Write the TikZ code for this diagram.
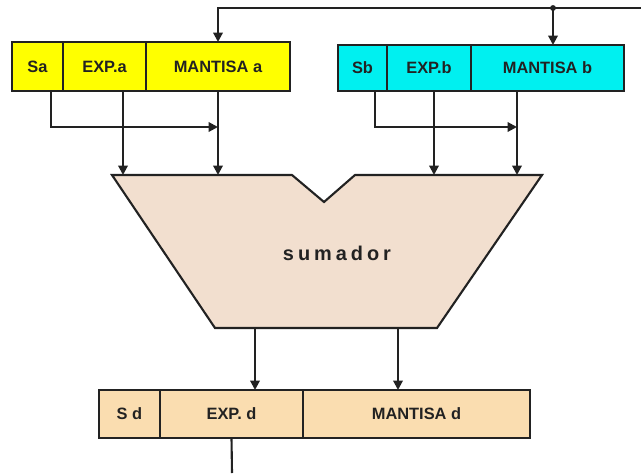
\documentclass[tikz,border=0pt]{standalone}
\usepackage{fontspec}
\setmainfont{Liberation Sans}
\usetikzlibrary{positioning,calc,arrows.meta}

\definecolor{regA}{HTML}{FFFF00}
\definecolor{regB}{HTML}{00F0F0}
\definecolor{aluFill}{HTML}{F2DFCF}
\definecolor{regD}{HTML}{FADDB0}
\definecolor{ink}{HTML}{222222}

\tikzset{
	field/.style={draw=ink, line width=2pt, rectangle, inner sep=0pt, outer sep=0pt,
		font=\fontsize{14}{16}\selectfont\bfseries, text=ink},
	wire/.style={draw=ink, line width=1.8pt},
	tip/.style={-{Triangle[length=8pt,width=8pt]}},
	alu/.style={draw=ink, line width=1.8pt, fill=aluFill, line join=miter}
}

\begin{document}
\begin{tikzpicture}[x=0.03cm, y=-0.03cm]
	\useasboundingbox (0,0) rectangle (641,473);

	% registro A
	\node[field, fill=regA, anchor=north west, minimum width=1.53cm, minimum height=1.47cm] (sa) at (12,42) {Sa};
	\node[field, fill=regA, right=0pt of sa, minimum width=2.49cm, minimum height=1.47cm] (expa) {EXP.a};
	\node[field, fill=regA, right=0pt of expa, minimum width=4.32cm, minimum height=1.47cm] (mana) {MANTISA a};

	% registro B
	\node[field, fill=regB, anchor=north west, minimum width=1.47cm, minimum height=1.38cm] (sb) at (338,45) {Sb};
	\node[field, fill=regB, right=0pt of sb, minimum width=2.52cm, minimum height=1.38cm] (expb) {EXP.b};
	\node[field, fill=regB, right=0pt of expb, minimum width=4.59cm, minimum height=1.38cm] (manb) {MANTISA b};

	% sumador
	\draw[alu] (112,175) -- (292,175) -- (324,202) -- (355,175) -- (542,175)
		-- (437,328) -- (215,328) -- cycle;
	\node[font=\fontsize{17}{20}\selectfont\bfseries\addfontfeature{LetterSpace=20}, text=ink] (sum) at (337,253) {sumador};
	\coordinate (ta1) at (123,175);
	\coordinate (ta2) at (218,175);
	\coordinate (tb1) at (434,175);
	\coordinate (tb2) at (517,175);
	\coordinate (ob1) at (255,328);
	\coordinate (ob2) at (398,328);

	% registro D
	\node[field, fill=regD, anchor=north west, minimum width=1.83cm, minimum height=1.44cm] (sd) at (99,390) {S d};
	\node[field, fill=regD, right=0pt of sd, minimum width=4.29cm, minimum height=1.44cm] (expd) {EXP. d};
	\node[field, fill=regD, right=0pt of expd, minimum width=6.81cm, minimum height=1.44cm] (mand) {MANTISA d};

	% bus superior
	\coordinate (bus) at (641,8);
	\coordinate (tap) at (553,8);
	\draw[wire, tip] (bus) -| (mana.north);
	\draw[wire, tip] (tap) -- (tap |- manb.north);
	\fill[ink] (tap) circle (2.5pt);

	% entradas al sumador
	\draw[wire, tip] ($(sa.south)+(13.5,0)$) |- ($(ta2)+(0,-48)$);
	\draw[wire, tip] (expa.south -| ta1) -- (ta1);
	\draw[wire, tip] (mana.south -| ta2) -- (ta2);
	\draw[wire, tip] ($(sb.south)+(12.5,0)$) |- ($(tb2)+(0,-48)$);
	\draw[wire, tip] (expb.south -| tb1) -- (tb1);
	\draw[wire, tip] (manb.south -| tb2) -- (tb2);

	% salidas
	\draw[wire, tip] (ob1) -- (ob1 |- expd.north);
	\draw[wire, tip] (ob2) -- (ob2 |- mand.north);
	\coordinate (out) at (232,473);
	\draw[wire] (expd.south) -- (out);
\end{tikzpicture}
\end{document}
